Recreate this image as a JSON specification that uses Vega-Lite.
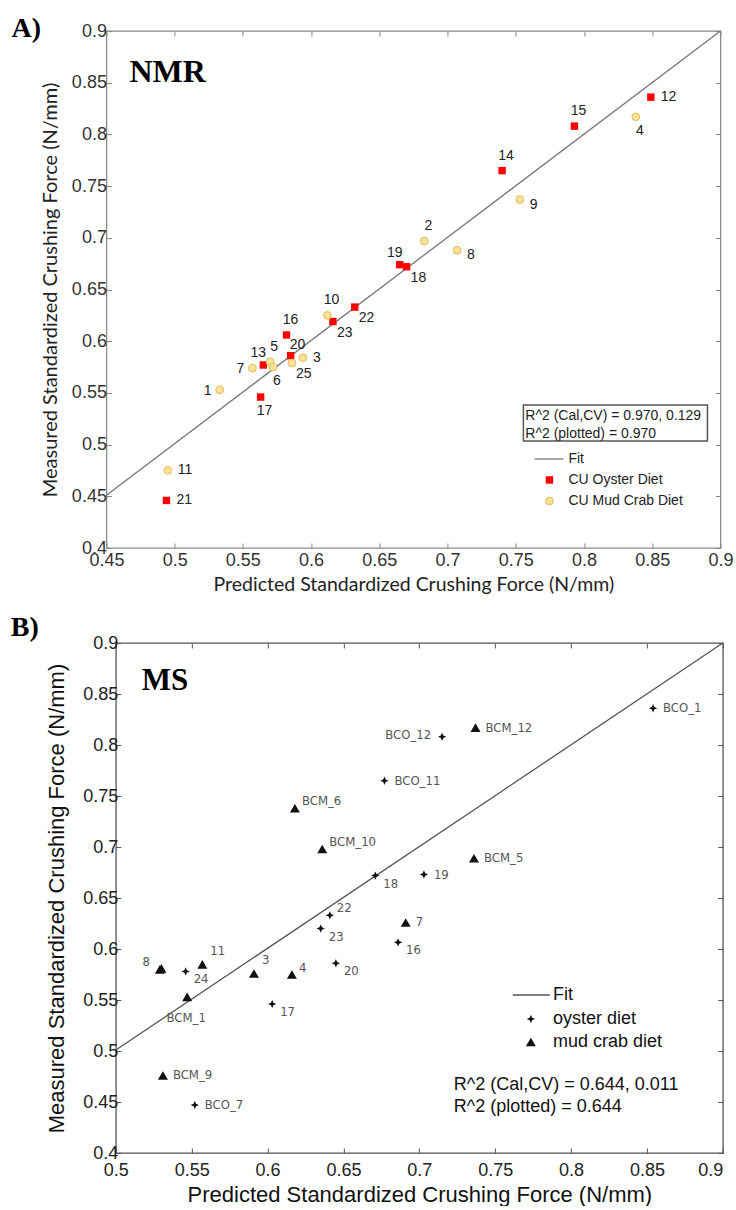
{
  "$schema": "https://vega.github.io/schema/vega-lite/v6.json",
  "background": "white",
  "padding": {"left": 10, "top": 14, "right": 5, "bottom": 0},
  "autosize": {"type": "pad"},
  "columns": 1,
  "align": "all",
  "center": true,
  "spacing": 18,
  "config": {
    "view": {"stroke": null},
    "axis": {"grid": false, "labelOverlap": false, "labelFlush": false, "titleFontWeight": "normal"}
  },
  "datasets": {
    "A": [
      {"id": "12", "x": 0.849, "y": 0.836, "diet": "oyster", "side": "r"},
      {"id": "15", "x": 0.793, "y": 0.808, "diet": "oyster", "side": "a"},
      {"id": "14", "x": 0.740, "y": 0.765, "diet": "oyster", "side": "a"},
      {"id": "19", "x": 0.665, "y": 0.674, "diet": "oyster", "side": "al"},
      {"id": "18", "x": 0.670, "y": 0.672, "diet": "oyster", "side": "br"},
      {"id": "22", "x": 0.632, "y": 0.633, "diet": "oyster", "side": "br"},
      {"id": "23", "x": 0.616, "y": 0.619, "diet": "oyster", "side": "br"},
      {"id": "16", "x": 0.582, "y": 0.606, "diet": "oyster", "side": "a"},
      {"id": "20", "x": 0.585, "y": 0.586, "diet": "oyster", "side": "ar"},
      {"id": "13", "x": 0.565, "y": 0.577, "diet": "oyster", "side": "al"},
      {"id": "17", "x": 0.563, "y": 0.546, "diet": "oyster", "side": "b"},
      {"id": "21", "x": 0.494, "y": 0.446, "diet": "oyster", "side": "r"},
      {"id": "4", "x": 0.838, "y": 0.817, "diet": "mud", "side": "b"},
      {"id": "9", "x": 0.753, "y": 0.737, "diet": "mud", "side": "rb"},
      {"id": "2", "x": 0.683, "y": 0.697, "diet": "mud", "side": "a"},
      {"id": "8", "x": 0.707, "y": 0.688, "diet": "mud", "side": "rb"},
      {"id": "10", "x": 0.612, "y": 0.625, "diet": "mud", "side": "a"},
      {"id": "3", "x": 0.594, "y": 0.584, "diet": "mud", "side": "r"},
      {"id": "25", "x": 0.586, "y": 0.579, "diet": "mud", "side": "br"},
      {"id": "5", "x": 0.570, "y": 0.580, "diet": "mud", "side": "a"},
      {"id": "6", "x": 0.572, "y": 0.575, "diet": "mud", "side": "b"},
      {"id": "7", "x": 0.557, "y": 0.574, "diet": "mud", "side": "l"},
      {"id": "1", "x": 0.533, "y": 0.553, "diet": "mud", "side": "l"},
      {"id": "11", "x": 0.495, "y": 0.475, "diet": "mud", "side": "r"}
    ],
    "B": [
      {"id": "BCO_1", "x": 0.854, "y": 0.836, "diet": "oyster", "side": "r"},
      {"id": "BCO_12", "x": 0.715, "y": 0.808, "diet": "oyster", "side": "l"},
      {"id": "BCO_11", "x": 0.677, "y": 0.765, "diet": "oyster", "side": "r"},
      {"id": "18", "x": 0.671, "y": 0.672, "diet": "oyster", "side": "br"},
      {"id": "19", "x": 0.703, "y": 0.673, "diet": "oyster", "side": "r"},
      {"id": "22", "x": 0.641, "y": 0.633, "diet": "oyster", "side": "ar"},
      {"id": "23", "x": 0.635, "y": 0.620, "diet": "oyster", "side": "br"},
      {"id": "16", "x": 0.686, "y": 0.6065, "diet": "oyster", "side": "br"},
      {"id": "20", "x": 0.645, "y": 0.586, "diet": "oyster", "side": "br"},
      {"id": "17", "x": 0.603, "y": 0.546, "diet": "oyster", "side": "br"},
      {"id": "24", "x": 0.546, "y": 0.578, "diet": "oyster", "side": "br"},
      {"id": "BCO_7", "x": 0.552, "y": 0.447, "diet": "oyster", "side": "r"},
      {"id": "BCM_12", "x": 0.737, "y": 0.817, "diet": "mud", "side": "r"},
      {"id": "BCM_6", "x": 0.618, "y": 0.738, "diet": "mud", "side": "ar"},
      {"id": "BCM_10", "x": 0.636, "y": 0.698, "diet": "mud", "side": "ar"},
      {"id": "BCM_5", "x": 0.736, "y": 0.689, "diet": "mud", "side": "r"},
      {"id": "7", "x": 0.691, "y": 0.626, "diet": "mud", "side": "r"},
      {"id": "4", "x": 0.616, "y": 0.575, "diet": "mud", "side": "ar"},
      {"id": "3", "x": 0.591, "y": 0.576, "diet": "mud", "side": "au"},
      {"id": "11", "x": 0.557, "y": 0.585, "diet": "mud", "side": "au"},
      {"id": "8", "x": 0.529, "y": 0.580, "diet": "mud", "side": "al"},
      {"id": "", "x": 0.530, "y": 0.581, "diet": "mud", "side": "none"},
      {"id": "BCM_1", "x": 0.547, "y": 0.553, "diet": "mud", "side": "b"},
      {"id": "BCM_9", "x": 0.531, "y": 0.476, "diet": "mud", "side": "r"}
    ]
  },
  "concat": [
    {
      "width": 614,
      "height": 517,
      "view": {"stroke": "#8a8a8a", "strokeWidth": 1.3},
      "resolve": {"axis": {"x": "independent", "y": "independent"}},
      "layer": [
        {
          "data": {"values": [{}]},
          "mark": {"type": "rule", "color": "#777", "strokeWidth": 1.3},
          "encoding": {
            "x": {"datum": 0.45, "type": "quantitative", "axis": null, "scale": {"domain": [0.45, 0.9], "nice": false, "zero": false}},
            "y": {"datum": 0.451, "type": "quantitative", "axis": null, "scale": {"domain": [0.4, 0.9], "nice": false, "zero": false}},
            "x2": {"datum": 0.9},
            "y2": {"datum": 0.9}
          }
        },
        {
          "data": {"name": "A"},
          "transform": [{"filter": "datum.diet === 'oyster'"}],
          "mark": {"type": "point", "shape": "square", "filled": true, "size": 55, "color": "#ff0000", "opacity": 1},
          "encoding": {
            "x": {"field": "x", "type": "quantitative", "axis": {"orient": "bottom", "values": [0.45, 0.5, 0.55, 0.6, 0.65, 0.7, 0.75, 0.8, 0.85, 0.9], "format": "~g", "domain": false, "tickSize": -5, "tickColor": "#888", "labelFont": "Liberation Sans", "labelFontSize": 18, "labelColor": "#333", "labelPadding": 8, "title": "Predicted Standardized Crushing Force (N/mm)", "titleFont": "Lato", "titleFontSize": 19.5, "titleColor": "#222", "titlePadding": 6}},
            "y": {"field": "y", "type": "quantitative", "axis": {"orient": "left", "values": [0.4, 0.45, 0.5, 0.55, 0.6, 0.65, 0.7, 0.75, 0.8, 0.85, 0.9], "format": "~g", "domain": false, "tickSize": -5, "tickColor": "#888", "labelFont": "Liberation Sans", "labelFontSize": 18, "labelColor": "#333", "labelPadding": 5, "title": "Measured Standardized Crushing Force (N/mm)", "titleFont": "Lato", "titleFontSize": 20, "titleColor": "#222", "titlePadding": 11}}
          }
        },
        {
          "data": {"name": "A"},
          "transform": [{"filter": "datum.diet === 'mud'"}],
          "mark": {"type": "point", "shape": "circle", "filled": true, "size": 60, "fill": "#fbe29a", "stroke": "#e3bb58", "strokeWidth": 1, "opacity": 1},
          "encoding": {
            "x": {"field": "x", "type": "quantitative", "axis": {"orient": "top", "values": [0.45, 0.5, 0.55, 0.6, 0.65, 0.7, 0.75, 0.8, 0.85, 0.9], "labels": false, "domain": false, "tickSize": -5, "tickColor": "#888", "title": null}},
            "y": {"field": "y", "type": "quantitative", "axis": {"orient": "right", "values": [0.4, 0.45, 0.5, 0.55, 0.6, 0.65, 0.7, 0.75, 0.8, 0.85, 0.9], "labels": false, "domain": false, "tickSize": -5, "tickColor": "#888", "title": null}}
          }
        },
        {
          "data": {"name": "A"},
          "transform": [{"filter": "datum.side === 'r'"}],
          "mark": {"type": "text", "align": "left", "baseline": "middle", "dx": 10, "dy": 0, "font": "Liberation Sans", "fontSize": 14, "color": "#222"},
          "encoding": {"x": {"field": "x", "type": "quantitative", "axis": null}, "y": {"field": "y", "type": "quantitative", "axis": null}, "text": {"field": "id"}}
        },
        {
          "data": {"name": "A"},
          "transform": [{"filter": "datum.side === 'rb'"}],
          "mark": {"type": "text", "align": "left", "baseline": "middle", "dx": 10, "dy": 5, "font": "Liberation Sans", "fontSize": 14, "color": "#222"},
          "encoding": {"x": {"field": "x", "type": "quantitative", "axis": null}, "y": {"field": "y", "type": "quantitative", "axis": null}, "text": {"field": "id"}}
        },
        {
          "data": {"name": "A"},
          "transform": [{"filter": "datum.side === 'l'"}],
          "mark": {"type": "text", "align": "right", "baseline": "middle", "dx": -8, "dy": 1, "font": "Liberation Sans", "fontSize": 14, "color": "#222"},
          "encoding": {"x": {"field": "x", "type": "quantitative", "axis": null}, "y": {"field": "y", "type": "quantitative", "axis": null}, "text": {"field": "id"}}
        },
        {
          "data": {"name": "A"},
          "transform": [{"filter": "datum.side === 'a'"}],
          "mark": {"type": "text", "align": "center", "baseline": "middle", "dx": 4, "dy": -15, "font": "Liberation Sans", "fontSize": 14, "color": "#222"},
          "encoding": {"x": {"field": "x", "type": "quantitative", "axis": null}, "y": {"field": "y", "type": "quantitative", "axis": null}, "text": {"field": "id"}}
        },
        {
          "data": {"name": "A"},
          "transform": [{"filter": "datum.side === 'b'"}],
          "mark": {"type": "text", "align": "center", "baseline": "middle", "dx": 4, "dy": 14, "font": "Liberation Sans", "fontSize": 14, "color": "#222"},
          "encoding": {"x": {"field": "x", "type": "quantitative", "axis": null}, "y": {"field": "y", "type": "quantitative", "axis": null}, "text": {"field": "id"}}
        },
        {
          "data": {"name": "A"},
          "transform": [{"filter": "datum.side === 'br'"}],
          "mark": {"type": "text", "align": "left", "baseline": "middle", "dx": 4, "dy": 11, "font": "Liberation Sans", "fontSize": 14, "color": "#222"},
          "encoding": {"x": {"field": "x", "type": "quantitative", "axis": null}, "y": {"field": "y", "type": "quantitative", "axis": null}, "text": {"field": "id"}}
        },
        {
          "data": {"name": "A"},
          "transform": [{"filter": "datum.side === 'al'"}],
          "mark": {"type": "text", "align": "center", "baseline": "middle", "dx": -5, "dy": -12, "font": "Liberation Sans", "fontSize": 14, "color": "#222"},
          "encoding": {"x": {"field": "x", "type": "quantitative", "axis": null}, "y": {"field": "y", "type": "quantitative", "axis": null}, "text": {"field": "id"}}
        },
        {
          "data": {"name": "A"},
          "transform": [{"filter": "datum.side === 'ar'"}],
          "mark": {"type": "text", "align": "center", "baseline": "middle", "dx": 7, "dy": -11, "font": "Liberation Sans", "fontSize": 14, "color": "#222"},
          "encoding": {"x": {"field": "x", "type": "quantitative", "axis": null}, "y": {"field": "y", "type": "quantitative", "axis": null}, "text": {"field": "id"}}
        },
        {
          "data": {"values": [{}]},
          "mark": {"type": "text", "text": "NMR", "font": "Liberation Serif", "fontWeight": "bold", "fontSize": 32, "align": "left", "baseline": "alphabetic", "color": "#000"},
          "encoding": {"x": {"datum": 0.4669, "type": "quantitative", "axis": null}, "y": {"datum": 0.8507, "type": "quantitative", "axis": null}}
        },
        {
          "data": {"values": [{}]},
          "mark": {"type": "text", "text": "A)", "font": "Liberation Serif", "fontWeight": "bold", "fontSize": 28, "align": "left", "baseline": "alphabetic", "color": "#000"},
          "encoding": {"x": {"datum": 0.3804, "type": "quantitative", "axis": null}, "y": {"datum": 0.8942, "type": "quantitative", "axis": null}}
        },
        {
          "data": {"values": [{}]},
          "mark": {"type": "rect", "fill": "white", "stroke": "#555", "strokeWidth": 1.5},
          "encoding": {"x": {"datum": 0.7556, "type": "quantitative", "axis": null}, "x2": {"datum": 0.8905}, "y": {"datum": 0.5383, "type": "quantitative", "axis": null}, "y2": {"datum": 0.5035}}
        },
        {
          "data": {"values": [{}]},
          "mark": {"type": "text", "text": ["R^2 (Cal,CV) = 0.970, 0.129", "R^2 (plotted) = 0.970"], "lineHeight": 18, "font": "Liberation Sans", "fontSize": 14, "align": "left", "baseline": "alphabetic", "color": "#222"},
          "encoding": {"x": {"datum": 0.757, "type": "quantitative", "axis": null}, "y": {"datum": 0.5238, "type": "quantitative", "axis": null}}
        },
        {
          "data": {"values": [{}]},
          "mark": {"type": "rule", "color": "#777", "strokeWidth": 1.3},
          "encoding": {"x": {"datum": 0.7637, "type": "quantitative", "axis": null}, "x2": {"datum": 0.7849}, "y": {"datum": 0.4861, "type": "quantitative", "axis": null}}
        },
        {
          "data": {"values": [{}]},
          "mark": {"type": "point", "shape": "square", "filled": true, "size": 55, "color": "#ff0000", "opacity": 1},
          "encoding": {"x": {"datum": 0.7747, "type": "quantitative", "axis": null}, "y": {"datum": 0.4658, "type": "quantitative", "axis": null}}
        },
        {
          "data": {"values": [{}]},
          "mark": {"type": "point", "shape": "circle", "filled": true, "size": 60, "fill": "#fbe29a", "stroke": "#e3bb58", "strokeWidth": 1, "opacity": 1},
          "encoding": {"x": {"datum": 0.7747, "type": "quantitative", "axis": null}, "y": {"datum": 0.4455, "type": "quantitative", "axis": null}}
        },
        {
          "data": {"values": [{"t": "Fit", "ly": 0.4861}, {"t": "CU Oyster Diet", "ly": 0.4658}, {"t": "CU Mud Crab Diet", "ly": 0.4455}]},
          "mark": {"type": "text", "font": "Liberation Sans", "fontSize": 14, "align": "left", "baseline": "middle", "color": "#222"},
          "encoding": {"x": {"datum": 0.7886, "type": "quantitative", "axis": null}, "y": {"field": "ly", "type": "quantitative", "axis": null}, "text": {"field": "t"}}
        }
      ]
    },
    {
      "width": 607,
      "height": 510,
      "view": {"stroke": "#555", "strokeWidth": 1.3},
      "resolve": {"axis": {"x": "independent", "y": "independent"}},
      "layer": [
        {
          "data": {"values": [{}]},
          "mark": {"type": "rule", "color": "#555", "strokeWidth": 1.3},
          "encoding": {
            "x": {"datum": 0.5, "type": "quantitative", "axis": null, "scale": {"domain": [0.5, 0.9], "nice": false, "zero": false}},
            "y": {"datum": 0.501, "type": "quantitative", "axis": null, "scale": {"domain": [0.4, 0.9], "nice": false, "zero": false}},
            "x2": {"datum": 0.9},
            "y2": {"datum": 0.9}
          }
        },
        {
          "data": {"name": "B"},
          "transform": [{"filter": "datum.diet === 'oyster'"}],
          "mark": {"type": "point", "shape": "M0,-1L0.3,-0.3L1,0L0.3,0.3L0,1L-0.3,0.3L-1,0L-0.3,-0.3Z", "filled": true, "size": 70, "color": "#111", "opacity": 1},
          "encoding": {
            "x": {"field": "x", "type": "quantitative", "axis": {"orient": "bottom", "values": [0.5, 0.55, 0.6, 0.65, 0.7, 0.75, 0.8, 0.85, 0.9], "format": "~g", "domain": false, "tickSize": -5, "tickColor": "#555", "labelFont": "Liberation Sans", "labelFontSize": 18, "labelColor": "#222", "labelPadding": 13, "labelAlign": {"condition": {"test": "datum.value >= 0.899", "value": "right"}, "value": "center"}, "title": "Predicted Standardized Crushing Force (N/mm)", "titleFont": "Liberation Sans", "titleFontSize": 22, "titleColor": "#111", "titlePadding": 5}},
            "y": {"field": "y", "type": "quantitative", "axis": {"orient": "left", "values": [0.4, 0.45, 0.5, 0.55, 0.6, 0.65, 0.7, 0.75, 0.8, 0.85, 0.9], "format": "~g", "domain": false, "tickSize": -5, "tickColor": "#555", "labelFont": "Liberation Sans", "labelFontSize": 18, "labelColor": "#222", "labelPadding": 3, "title": "Measured Standardized Crushing Force (N/mm)", "titleFont": "Liberation Sans", "titleFontSize": 22, "titleColor": "#111", "titlePadding": 14}}
          }
        },
        {
          "data": {"name": "B"},
          "transform": [{"filter": "datum.diet === 'mud'"}],
          "mark": {"type": "point", "shape": "triangle-up", "filled": true, "size": 100, "color": "#111", "opacity": 1},
          "encoding": {
            "x": {"field": "x", "type": "quantitative", "axis": {"orient": "top", "values": [0.5, 0.55, 0.6, 0.65, 0.7, 0.75, 0.8, 0.85, 0.9], "labels": false, "domain": false, "tickSize": -5, "tickColor": "#555", "title": null}},
            "y": {"field": "y", "type": "quantitative", "axis": {"orient": "right", "values": [0.4, 0.45, 0.5, 0.55, 0.6, 0.65, 0.7, 0.75, 0.8, 0.85, 0.9], "labels": false, "domain": false, "tickSize": -5, "tickColor": "#555", "title": null}}
          }
        },
        {
          "data": {"name": "B"},
          "transform": [{"filter": "datum.side === 'r'"}],
          "mark": {"type": "text", "align": "left", "baseline": "middle", "dx": 10, "dy": 0, "font": "Liberation Sans Narrow, DejaVu Sans Condensed, sans-serif", "fontSize": 13, "color": "#555"},
          "encoding": {"x": {"field": "x", "type": "quantitative", "axis": null}, "y": {"field": "y", "type": "quantitative", "axis": null}, "text": {"field": "id"}}
        },
        {
          "data": {"name": "B"},
          "transform": [{"filter": "datum.side === 'l'"}],
          "mark": {"type": "text", "align": "right", "baseline": "middle", "dx": -11, "dy": -2, "font": "Liberation Sans Narrow, DejaVu Sans Condensed, sans-serif", "fontSize": 13, "color": "#555"},
          "encoding": {"x": {"field": "x", "type": "quantitative", "axis": null}, "y": {"field": "y", "type": "quantitative", "axis": null}, "text": {"field": "id"}}
        },
        {
          "data": {"name": "B"},
          "transform": [{"filter": "datum.side === 'ar'"}],
          "mark": {"type": "text", "align": "left", "baseline": "middle", "dx": 7, "dy": -7, "font": "Liberation Sans Narrow, DejaVu Sans Condensed, sans-serif", "fontSize": 13, "color": "#555"},
          "encoding": {"x": {"field": "x", "type": "quantitative", "axis": null}, "y": {"field": "y", "type": "quantitative", "axis": null}, "text": {"field": "id"}}
        },
        {
          "data": {"name": "B"},
          "transform": [{"filter": "datum.side === 'au'"}],
          "mark": {"type": "text", "align": "left", "baseline": "middle", "dx": 8, "dy": -13, "font": "Liberation Sans Narrow, DejaVu Sans Condensed, sans-serif", "fontSize": 13, "color": "#555"},
          "encoding": {"x": {"field": "x", "type": "quantitative", "axis": null}, "y": {"field": "y", "type": "quantitative", "axis": null}, "text": {"field": "id"}}
        },
        {
          "data": {"name": "B"},
          "transform": [{"filter": "datum.side === 'br'"}],
          "mark": {"type": "text", "align": "left", "baseline": "middle", "dx": 8, "dy": 8, "font": "Liberation Sans Narrow, DejaVu Sans Condensed, sans-serif", "fontSize": 13, "color": "#555"},
          "encoding": {"x": {"field": "x", "type": "quantitative", "axis": null}, "y": {"field": "y", "type": "quantitative", "axis": null}, "text": {"field": "id"}}
        },
        {
          "data": {"name": "B"},
          "transform": [{"filter": "datum.side === 'al'"}],
          "mark": {"type": "text", "align": "right", "baseline": "middle", "dx": -10, "dy": -7, "font": "Liberation Sans Narrow, DejaVu Sans Condensed, sans-serif", "fontSize": 13, "color": "#555"},
          "encoding": {"x": {"field": "x", "type": "quantitative", "axis": null}, "y": {"field": "y", "type": "quantitative", "axis": null}, "text": {"field": "id"}}
        },
        {
          "data": {"name": "B"},
          "transform": [{"filter": "datum.side === 'b'"}],
          "mark": {"type": "text", "align": "center", "baseline": "middle", "dx": -1, "dy": 21, "font": "Liberation Sans Narrow, DejaVu Sans Condensed, sans-serif", "fontSize": 13, "color": "#555"},
          "encoding": {"x": {"field": "x", "type": "quantitative", "axis": null}, "y": {"field": "y", "type": "quantitative", "axis": null}, "text": {"field": "id"}}
        },
        {
          "data": {"values": [{}]},
          "mark": {"type": "text", "text": "MS", "font": "Liberation Serif", "fontWeight": "bold", "fontSize": 31, "align": "left", "baseline": "alphabetic", "color": "#000"},
          "encoding": {"x": {"datum": 0.5171, "type": "quantitative", "axis": null}, "y": {"datum": 0.8539, "type": "quantitative", "axis": null}}
        },
        {
          "data": {"values": [{}]},
          "mark": {"type": "text", "text": "B)", "font": "Liberation Serif", "fontWeight": "bold", "fontSize": 28, "align": "left", "baseline": "alphabetic", "color": "#000"},
          "encoding": {"x": {"datum": 0.4308, "type": "quantitative", "axis": null}, "y": {"datum": 0.9069, "type": "quantitative", "axis": null}}
        },
        {
          "data": {"values": [{}]},
          "mark": {"type": "rule", "color": "#555", "strokeWidth": 1.3},
          "encoding": {"x": {"datum": 0.7616, "type": "quantitative", "axis": null}, "x2": {"datum": 0.786}, "y": {"datum": 0.5549, "type": "quantitative", "axis": null}}
        },
        {
          "data": {"values": [{}]},
          "mark": {"type": "point", "shape": "M0,-1L0.3,-0.3L1,0L0.3,0.3L0,1L-0.3,0.3L-1,0L-0.3,-0.3Z", "filled": true, "size": 70, "color": "#111", "opacity": 1},
          "encoding": {"x": {"datum": 0.7735, "type": "quantitative", "axis": null}, "y": {"datum": 0.5314, "type": "quantitative", "axis": null}}
        },
        {
          "data": {"values": [{}]},
          "mark": {"type": "point", "shape": "triangle-up", "filled": true, "size": 100, "color": "#111", "opacity": 1},
          "encoding": {"x": {"datum": 0.7735, "type": "quantitative", "axis": null}, "y": {"datum": 0.5088, "type": "quantitative", "axis": null}}
        },
        {
          "data": {"values": [{"t": "Fit", "ly": 0.5549}, {"t": "oyster diet", "ly": 0.5314}, {"t": "mud crab diet", "ly": 0.5088}]},
          "mark": {"type": "text", "font": "Liberation Sans", "fontSize": 18, "align": "left", "baseline": "middle", "color": "#111"},
          "encoding": {"x": {"datum": 0.788, "type": "quantitative", "axis": null}, "y": {"field": "ly", "type": "quantitative", "axis": null}, "text": {"field": "t"}}
        },
        {
          "data": {"values": [{}]},
          "mark": {"type": "text", "text": ["R^2 (Cal,CV) = 0.644, 0.011", "R^2 (plotted) = 0.644"], "lineHeight": 22, "font": "Liberation Sans", "fontSize": 18, "align": "left", "baseline": "alphabetic", "color": "#111"},
          "encoding": {"x": {"datum": 0.7227, "type": "quantitative", "axis": null}, "y": {"datum": 0.4618, "type": "quantitative", "axis": null}}
        }
      ]
    }
  ]
}
